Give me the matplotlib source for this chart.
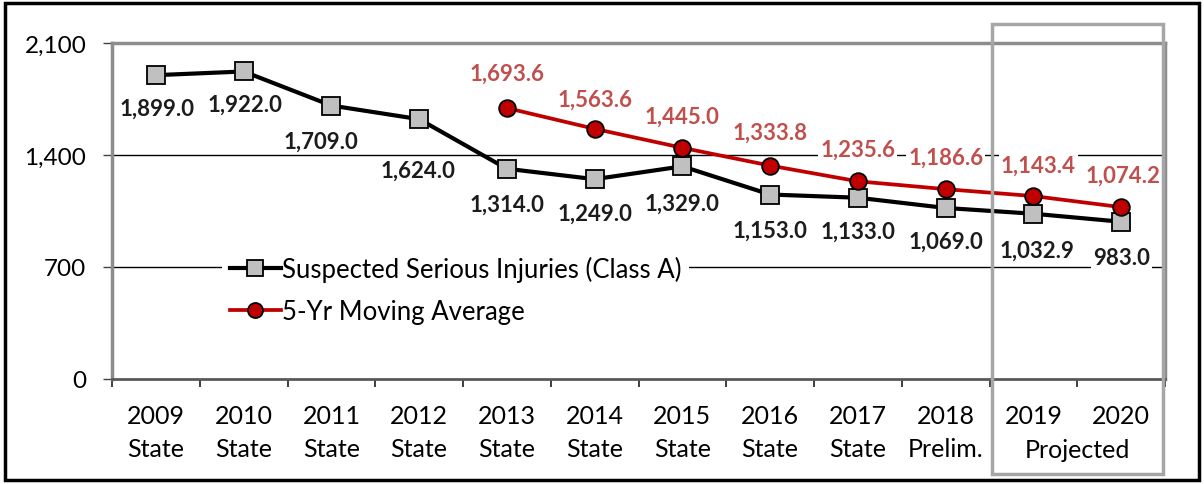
import matplotlib.pyplot as plt
from matplotlib.patches import Rectangle
from matplotlib.ticker import FixedLocator, FuncFormatter

plt.rcParams['font.family'] = ['Lato', 'DejaVu Sans']

# data
years = ['2009', '2010', '2011', '2012', '2013', '2014',
         '2015', '2016', '2017', '2018', '2019', '2020']
status = ['State', 'State', 'State', 'State', 'State', 'State',
          'State', 'State', 'State', 'Prelim.', '', '']
injuries = [1899.0, 1922.0, 1709.0, 1624.0, 1314.0, 1249.0,
            1329.0, 1153.0, 1133.0, 1069.0, 1032.9, 983.0]
avg_years = ['2013', '2014', '2015', '2016', '2017', '2018', '2019', '2020']
moving_avg = [1693.6, 1563.6, 1445.0, 1333.8, 1235.6, 1186.6, 1143.4, 1074.2]

# label nudges (pixels), tuned by eye
inj_dy = [-33, -33, -36, -51, -35, -34, -37, -36, -33, -33, -36, -36]
inj_dx = [1, 1, -10, -1, 0, 0, 0, 0, 0, 0, 4, 0]
avg_dy = [35, 30, 32, 33, 32, 32, 31, 32]
avg_dx = [0, 0, 0, 0, 0, 0, 5, 2]

x = list(range(len(years)))
xa = [years.index(y) for y in avg_years]

fig = plt.figure(figsize=(12.04, 4.85), dpi=100)
ax = fig.add_axes([112 / 1204, 105 / 485, 1053 / 1204, 336 / 485])

ax.axhline(700, color='black', lw=1, zorder=1)
ax.axhline(1400, color='black', lw=1, zorder=1)

ax.plot(x, injuries, color='black', lw=3, marker='s', ms=12.5,
        mfc='#c0c0c0', mec='black', mew=1.3, zorder=3,
        label='Suspected Serious Injuries (Class A)')
ax.plot(xa, moving_avg, color='#c00000', lw=2.7, marker='o', ms=12,
        mfc='#c00000', mec='black', mew=1.3, zorder=3,
        label='5-Yr Moving Average')

for i, v in enumerate(injuries):
    ax.annotate(f'{v:,.1f}', (x[i], v), xytext=(inj_dx[i], inj_dy[i]),
                textcoords='offset pixels', ha='center', va='center',
                fontsize=16, fontweight='bold', color='#1c1c1c', zorder=4,
                bbox=dict(facecolor='white', edgecolor='none', pad=1.5))
for i, v in enumerate(moving_avg):
    ax.annotate(f'{v:,.1f}', (xa[i], v), xytext=(avg_dx[i], avg_dy[i]),
                textcoords='offset pixels', ha='center', va='center',
                fontsize=16, fontweight='bold', color='#c0504d', zorder=4,
                bbox=dict(facecolor='white', edgecolor='none', pad=1.5))

ax.set_xlim(-0.5, len(years) - 0.5)
ax.set_ylim(0, 2100)
ax.set_yticks([0, 700, 1400, 2100])
ax.yaxis.set_major_formatter(FuncFormatter(lambda v, p: f'{v:,.0f}'))
ax.tick_params(axis='y', length=6.5, width=1, color='#404040', pad=12, labelsize=17.5)

ax.set_xticks(x)
ax.set_xticklabels([f'{y}\n{s}' if s else y for y, s in zip(years, status)],
                   linespacing=1.55)
ax.xaxis.set_minor_locator(FixedLocator([i - 0.5 for i in range(len(years) + 1)]))
ax.tick_params(axis='x', which='major', length=0, pad=18, labelsize=18)
ax.tick_params(axis='x', which='minor', length=6, width=1.3, color='#303030')
ax.text(10.5, -0.21, 'Projected', transform=ax.get_xaxis_transform(),
        ha='center', va='center', fontsize=18)

for side in ['top', 'left', 'right']:
    ax.spines[side].set_color('#8c8c8c')
    ax.spines[side].set_linewidth(2.5)
ax.spines['bottom'].set_color('#595959')
ax.spines['bottom'].set_linewidth(2)

leg = ax.legend(loc='upper left', bbox_to_anchor=(97 / 1053, 144 / 336),
                fontsize=18.5, frameon=True, handlelength=2.0, handletextpad=0.05,
                labelspacing=0.68, borderpad=0.3, markerscale=0.9)
leg.get_frame().set_facecolor('white')
leg.get_frame().set_edgecolor('none')
leg.get_frame().set_alpha(1)
leg.set_zorder(5)

# projected box and outer border
fig.patches.append(Rectangle((992 / 1204, 10 / 485), 171 / 1204, 450 / 485,
                             transform=fig.transFigure, fill=False,
                             edgecolor='#a6a6a6', lw=2.5, zorder=10))
fig.patches.append(Rectangle((5 / 1204, 4 / 485), 1194 / 1204, 477 / 485,
                             transform=fig.transFigure, fill=False,
                             edgecolor='black', lw=2.5, zorder=10))

fig.savefig('out.png', dpi=100)
